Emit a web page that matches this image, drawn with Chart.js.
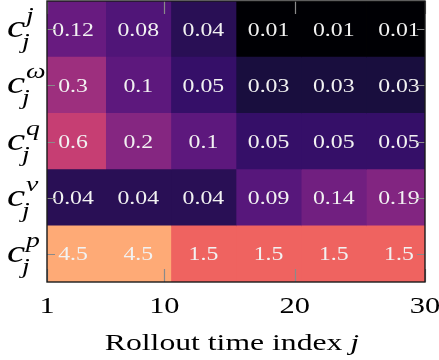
<!DOCTYPE html>
<html><head><meta charset="utf-8">
<script src="https://cdn.jsdelivr.net/npm/chart.js@4/dist/chart.umd.min.js"></script>
<style>html,body{margin:0;padding:0;background:#fff;overflow:hidden;}</style>
</head><body>
<canvas id="c" width="439" height="360"></canvas>
<script>
// ---- data ----
const rowSymbols = ['j', 'ω', 'q', 'v', 'p'];      // c_j^{symbol}, top to bottom
const colCenters = [3, 8, 13, 18, 23, 28];          // rollout time index bins (centres)
const binWidth = 5;
const xTicks = [1, 10, 20, 30];
const cJ     = [0.12, 0.08, 0.04, 0.01, 0.01, 0.01];
const cOmega = [0.3, 0.1, 0.05, 0.03, 0.03, 0.03];
const cQ     = [0.6, 0.2, 0.1, 0.05, 0.05, 0.05];
const cV     = [0.04, 0.04, 0.04, 0.09, 0.14, 0.19];
const cP     = [4.5, 4.5, 1.5, 1.5, 1.5, 1.5];
const rowValues = [cJ, cOmega, cQ, cV, cP];
const xTitle = 'Rollout time index ';
const xTitleVar = 'j';

// ---- colour map (magma, log norm) ----
const MAGMA = [[0,0,4],[20,14,54],[59,15,112],[100,26,128],[140,41,129],[183,55,121],[222,73,104],[247,112,92],[254,159,109],[254,207,146],[252,253,191]];
const VMIN = 0.0135, VMAX = 15.6;
function magma(v) {
  let t = (Math.log10(v) - Math.log10(VMIN)) / (Math.log10(VMAX) - Math.log10(VMIN));
  t = Math.max(0, Math.min(1, t));
  const p = t * (MAGMA.length - 1), i = Math.min(Math.floor(p), MAGMA.length - 2), f = p - i;
  const a = MAGMA[i], b = MAGMA[i + 1];
  return `rgb(${Math.round(a[0]+(b[0]-a[0])*f)},${Math.round(a[1]+(b[1]-a[1])*f)},${Math.round(a[2]+(b[2]-a[2])*f)})`;
}

const SX = 1.32;        // horizontal stretch of the lettering
const SERIF = '"Liberation Serif", "Times New Roman", serif';
function sText(ctx, txt, x, y, font, align) {
  ctx.save();
  ctx.font = font;
  ctx.textAlign = align || 'center';
  ctx.textBaseline = 'alphabetic';
  ctx.translate(x, y);
  ctx.scale(SX, 1);
  ctx.fillText(txt, 0, 0);
  ctx.restore();
}

const decor = {
  id: 'decor',
  afterDatasetsDraw(chart) {
    const {ctx, chartArea: a, scales: {x, y}} = chart;
    // cell values
    ctx.fillStyle = '#f2f2f2';
    rowValues.forEach((row, i) => {
      const py = y.getPixelForValue(i);
      row.forEach((v, k) => {
        sText(ctx, String(v), x.getPixelForValue(colCenters[k]), py + 6.5, '18px ' + SERIF, 'center');
      });
    });
    // tick marks (inward)
    ctx.save();
    ctx.strokeStyle = '#8a8a8a';
    ctx.lineWidth = 1.2;
    ctx.beginPath();
    rowSymbols.forEach((s, i) => {
      const py = Math.round(y.getPixelForValue(i)) + 0.5;
      ctx.moveTo(a.left, py); ctx.lineTo(a.left + 8, py);
      ctx.moveTo(a.right, py); ctx.lineTo(a.right - 8, py);
    });
    xTicks.forEach(t => {
      const px = Math.round(x.getPixelForValue(t)) + 0.5;
      ctx.moveTo(px, a.bottom); ctx.lineTo(px, a.bottom - 13);
      ctx.moveTo(px, a.top); ctx.lineTo(px, a.top + 13);
    });
    ctx.stroke();
    // frame
    ctx.strokeStyle = '#1a1a1a';
    ctx.lineWidth = 1.4;
    ctx.strokeRect(a.left, a.top, a.right - a.left, a.bottom - a.top);
    ctx.restore();
  },
  afterDraw(chart) {
    const {ctx, chartArea: a, scales: {x, y}} = chart;
    ctx.fillStyle = '#000';
    // x tick labels
    xTicks.forEach(t => sText(ctx, String(t), x.getPixelForValue(t), a.bottom + 31, '23px ' + SERIF, 'center'));
    // x title with italic j
    ctx.save();
    ctx.font = '24px ' + SERIF;
    const w1 = ctx.measureText(xTitle).width * SX;
    ctx.font = 'italic 24px ' + SERIF;
    const w2 = ctx.measureText(xTitleVar).width * SX;
    ctx.restore();
    const cx = (a.left + a.right) / 2 - 4;
    const x0 = cx - (w1 + w2) / 2;
    sText(ctx, xTitle, x0, a.bottom + 68, '24px ' + SERIF, 'left');
    sText(ctx, xTitleVar, x0 + w1, a.bottom + 68, 'italic 24px ' + SERIF, 'left');
    // y labels c_j^s
    rowSymbols.forEach((s, i) => {
      const py = y.getPixelForValue(i);
      sText(ctx, 'c', 7, py + 8, 'italic 31px ' + SERIF, 'left');
      sText(ctx, s, 26, py - 7, 'italic 21px ' + SERIF, 'left');
      sText(ctx, 'j', 22, py + 19, 'italic 21px ' + SERIF, 'left');
    });
  }
};

new Chart(document.getElementById('c'), {
  type: 'bar',
  data: {
    labels: rowSymbols,
    datasets: colCenters.map((c, k) => ({
      data: rowValues.map((row, i) => ({ y: rowSymbols[i], x: [c - binWidth / 2, c + binWidth / 2], v: row[k] })),
      backgroundColor: ctx => magma(ctx.raw.v),
      borderWidth: 0,
      barPercentage: 1,
      categoryPercentage: 1,
      grouped: false,
      clip: 0
    }))
  },
  options: {
    indexAxis: 'y',
    responsive: false,
    animation: false,
    layout: { padding: { left: 47, right: 14, top: 1, bottom: 78 } },
    plugins: { legend: { display: false }, tooltip: { enabled: false } },
    scales: {
      x: { type: 'linear', min: 1, max: 30, display: false },
      y: { type: 'category', labels: rowSymbols, offset: true, display: false }
    }
  },
  plugins: [decor]
});
</script>
</body></html>
